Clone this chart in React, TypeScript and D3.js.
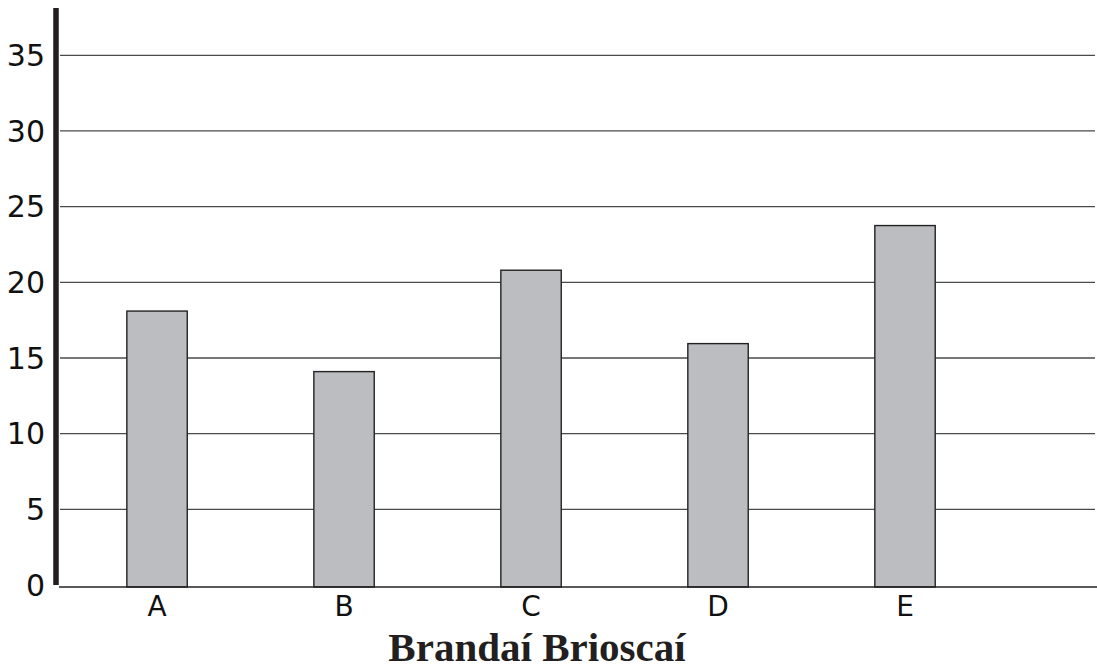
import React from "react";
import * as d3 from "d3";

const categories = ["A", "B", "C", "D", "E"];
const values = [18.1, 14.1, 20.8, 15.95, 23.75];
const yTicks = [0, 5, 10, 15, 20, 25, 30, 35];
const title = "Brandaí Brioscaí";

const W = 1097;
const H = 669;

export default function App() {
  const y = d3.scaleLinear().domain([0, 35]).range([585, 55.3]);
  const x = d3
    .scaleBand<string>()
    .domain(categories)
    .range([60, 1095])
    .paddingInner(0.677)
    .paddingOuter(0.606)
    .align(0.295);
  const labelFont = "'DejaVu Sans', 'Liberation Sans', Arial, sans-serif";
  return (
    <svg
      width={W}
      height={H}
      style={{ position: "absolute", left: 0, top: 0, background: "#fff" }}
    >
      {yTicks
        .filter((t) => t > 0)
        .map((t) => (
          <line
            key={"g" + t}
            x1={60}
            x2={1095}
            y1={y(t)}
            y2={y(t)}
            stroke="#4a4a4a"
            strokeWidth={1.3}
          />
        ))}
      {categories.map((c, i) => (
        <rect
          key={c}
          x={x(c)}
          y={y(values[i])}
          width={x.bandwidth()}
          height={y(0) - y(values[i]) + 2}
          fill="#bcbdc1"
          stroke="#222"
          strokeWidth={1.4}
        />
      ))}
      <line x1={59} x2={1097} y1={587} y2={587} stroke="#222" strokeWidth={1.6} />
      <line x1={56} x2={56} y1={8} y2={585} stroke="#231f20" strokeWidth={5.5} />
      {yTicks.map((t) => (
        <text
          key={"t" + t}
          x={45}
          y={y(t)}
          dy="0.36em"
          textAnchor="end"
          fontFamily={labelFont}
          fontSize={30}
          fill="#111"
        >
          {t}
        </text>
      ))}
      {categories.map((c) => (
        <text
          key={"l" + c}
          x={(x(c) ?? 0) + x.bandwidth() / 2}
          y={616}
          textAnchor="middle"
          fontFamily={labelFont}
          fontSize={28}
          fill="#111"
        >
          {c}
        </text>
      ))}
      <text
        x={537}
        y={661}
        textAnchor="middle"
        fontFamily="'Liberation Serif', 'Times New Roman', serif"
        fontWeight="bold"
        fontSize={41}
        fill="#231f20"
      >
        {title}
      </text>
    </svg>
  );
}
